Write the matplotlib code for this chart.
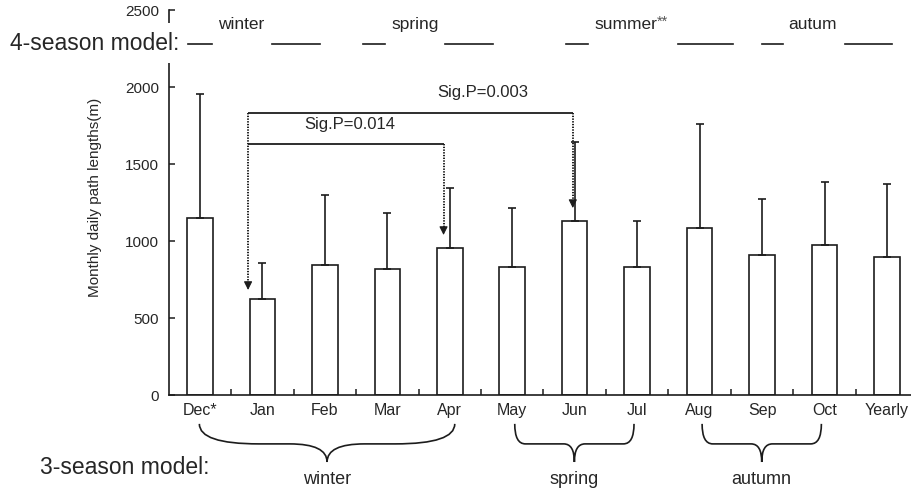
import numpy as np
import matplotlib
matplotlib.use('Agg')
import matplotlib.pyplot as plt
import matplotlib.transforms as mtransforms
from matplotlib.path import Path
from matplotlib.patches import PathPatch, Rectangle

plt.rcParams['font.family'] = ['Liberation Sans', 'DejaVu Sans']

# data
months = ['Dec*', 'Jan', 'Feb', 'Mar', 'Apr', 'May', 'Jun', 'Jul', 'Aug', 'Sep', 'Oct', 'Yearly']
means = [1150, 623, 844, 818, 955, 831, 1130, 831, 1084, 909, 974, 896]
sd = [805, 234, 455, 364, 389, 383, 513, 299, 676, 364, 409, 474]

# significance comparisons: (from month, to month, label, bracket height)
sig_labels = ['Sig.P=0.003', 'Sig.P=0.014']
sig_levels = [1831, 1630]
sig_from = ['Jan', 'Jan']
sig_to = ['Jun', 'Apr']

season4 = ['winter', 'spring', 'summer', 'autum']
season3 = ['winter', 'spring', 'autumn']
season3_start = ['Dec*', 'May', 'Aug']
season3_end = ['Apr', 'Jul', 'Oct']

ink = '#1c1c1c'
txt = '#262626'

fig = plt.figure(figsize=(9.11, 4.89), dpi=100)
ax = fig.add_axes([169 / 911, 93 / 489, 742 / 911, 385 / 489])

x = np.arange(len(months))
ax.bar(x, means, width=0.41, color='white', edgecolor=ink, linewidth=1.2, zorder=2)
ax.errorbar(x, means, yerr=[np.zeros(len(sd)), sd], fmt='none', ecolor=ink,
            elinewidth=1.2, capsize=3.2, capthick=1.2, zorder=3)

ax.set_xlim(-0.496, 11.385)
ax.set_ylim(0, 2500)
ax.set_yticks([0, 500, 1000, 1500, 2000, 2500])
ax.set_xticks(x)
ax.set_xticklabels(months, fontsize=11.5, color=txt)
ax.set_xticks(x[:-1] + 0.5, minor=True)
ax.tick_params(axis='x', which='major', length=0, pad=5)
ax.tick_params(axis='x', which='minor', direction='in', length=4, width=1.1, color=ink)
ax.tick_params(axis='y', direction='in', length=4, width=1.1, color=ink, labelsize=11,
               labelcolor=txt, pad=7)
for s in ['top', 'right']:
    ax.spines[s].set_visible(False)
for s in ['left', 'bottom']:
    ax.spines[s].set_linewidth(1.2)
    ax.spines[s].set_color(ink)
ax.set_ylabel('Monthly daily path lengths(m)', fontsize=11, color=txt)
ax.yaxis.set_label_coords(-0.09, 0.517)

# significance brackets with dotted arrows
pos = {m: i for i, m in enumerate(months)}
off_from = -0.23
off_to = {'Apr': -0.10, 'Jun': -0.03}
text_x = [4.53, 2.40]
text_y = [1974, 1760]
for lab, lev, a, b, tx, ty in zip(sig_labels, sig_levels, sig_from, sig_to, text_x, text_y):
    x0 = pos[a] + off_from
    x1 = pos[b] + off_to[b]
    ax.plot([x0, x1], [lev, lev], color=ink, lw=1.3, solid_capstyle='butt', zorder=4)
    tip = means[pos[b]] + 84
    ax.plot([x1, x1], [lev, tip + 40], color=ink, lw=1.4, ls=(0, (0.7, 0.7)), zorder=4)
    ax.annotate('', xy=(x1, tip), xytext=(x1, tip + 45),
                arrowprops=dict(arrowstyle='-|>,head_length=0.5,head_width=0.25',
                                color=ink, lw=0.8, shrinkA=0, shrinkB=0), zorder=5)
    ax.text(tx, ty, lab, fontsize=12, color=txt, ha='center', va='center')

# Jan dotted arrow
xj = pos['Jan'] + off_from
tipj = means[pos['Jan']] + 59
ax.plot([xj, xj], [max(sig_levels), tipj + 40], color=ink, lw=1.4, ls=(0, (0.7, 0.7)), zorder=4)
ax.annotate('', xy=(xj, tipj), xytext=(xj, tipj + 45),
            arrowprops=dict(arrowstyle='-|>,head_length=0.5,head_width=0.25',
                            color=ink, lw=0.8, shrinkA=0, shrinkB=0), zorder=5)

trans = mtransforms.blended_transform_factory(ax.transData, ax.transAxes)

# 4-season model row
dash_pairs = [(-0.19, 0.19), (1.15, 1.92), (2.61, 2.96), (3.92, 4.69),
              (5.86, 6.21), (7.65, 8.53), (9.0, 9.34), (10.33, 11.08)]
for d0, d1 in dash_pairs:
    ax.plot([d0, d1], [0.912, 0.912], color=ink, lw=1.2, transform=trans, clip_on=False)
s4_x = [0.66, 3.44, 6.31, 9.80]
s4_ha = ['center', 'center', 'left', 'center']
for name, sx, ha in zip(season4, s4_x, s4_ha):
    ax.text(sx, 0.966, name, fontsize=12.5, color=txt, ha=ha, va='center',
            transform=trans)
ax.text(7.31, 0.972, '**', fontsize=10.5, color='#555555', ha='left', va='center',
        transform=trans)
fig.text(10 / 911, 1 - 43 / 489, '4-season model:', fontsize=16.5, color=txt,
         ha='left', va='center', zorder=6)
fig.add_artist(Rectangle((165 / 911, 1 - 64 / 489), 6 / 911, 40 / 489,
                         facecolor='white', edgecolor='none', zorder=5))


# 3-season model braces
def brace(xa, xb, xm, r, r2, ytop=-0.075, yarm=-0.127, ytip=-0.174):
    verts = [(xa, ytop), (xa, yarm), (xa + r, yarm),
             (xm - r2, yarm), (xm, yarm), (xm, ytip),
             (xm, yarm), (xm + r2, yarm),
             (xb - r, yarm), (xb, yarm), (xb, ytop)]
    codes = [Path.MOVETO, Path.CURVE3, Path.CURVE3,
             Path.LINETO, Path.CURVE3, Path.CURVE3,
             Path.CURVE3, Path.CURVE3,
             Path.LINETO, Path.CURVE3, Path.CURVE3]
    p = PathPatch(Path(verts, codes), facecolor='none', edgecolor=ink, lw=1.2,
                  transform=trans, clip_on=False)
    ax.add_patch(p)


brace_shape = {'winter': (0.95, 0.6), 'spring': (0.17, 0.17), 'autumn': (0.17, 0.17)}
for name, a, b in zip(season3, season3_start, season3_end):
    xa, xb = pos[a] - 0.01, pos[b] + 0.08
    if name != 'winter':
        xa, xb = pos[a] + 0.04, pos[b] - 0.05
    xm = (xa + xb) / 2
    r, r2 = brace_shape[name]
    brace(xa, xb, xm, r, r2)
    ax.text(xm, -0.218, name, fontsize=13, color=txt, ha='center', va='center',
            transform=trans)
fig.text(40 / 911, 1 - 468 / 489, '3-season model:', fontsize=16.5, color=txt,
         ha='left', va='center')

fig.savefig('out.png', dpi=100)
